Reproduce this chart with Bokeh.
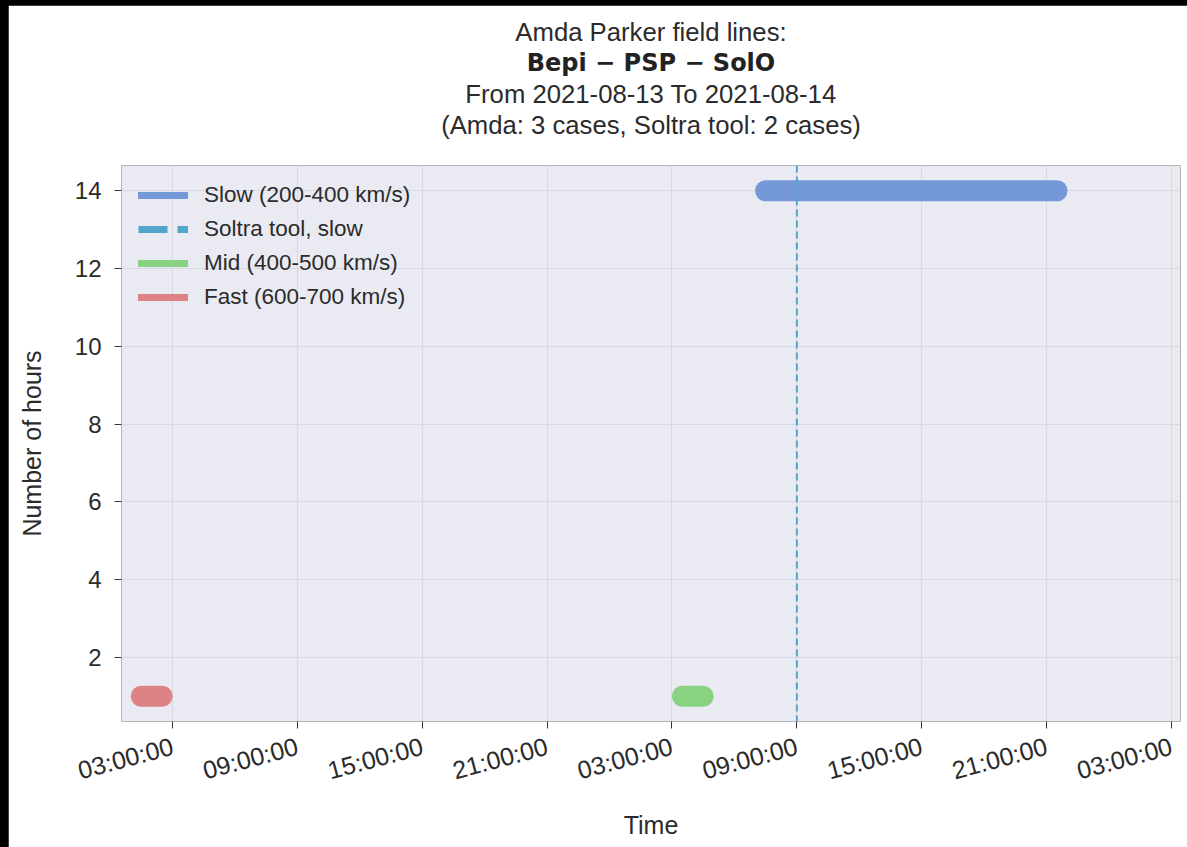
import pandas as pd
from bokeh.plotting import figure
from bokeh.models import (Range1d, FixedTicker, DatetimeTickFormatter, Span, Title,
                          ColumnDataSource, GlobalInlineStyleSheet)
from bokeh.embed import file_html
from bokeh.resources import INLINE
import math

# ---- data ----
slow_start = ["2021-08-14 07:30"]
slow_end = ["2021-08-14 21:30"]
slow_hours = [14]

mid_start = ["2021-08-14 03:30"]
mid_end = ["2021-08-14 04:30"]
mid_hours = [1]

fast_start = ["2021-08-13 01:30"]
fast_end = ["2021-08-13 02:30"]
fast_hours = [1]

soltra_slow_times = ["2021-08-14 09:00"]

x_ticks = ["2021-08-13 03:00", "2021-08-13 09:00", "2021-08-13 15:00", "2021-08-13 21:00",
           "2021-08-14 03:00", "2021-08-14 09:00", "2021-08-14 15:00", "2021-08-14 21:00",
           "2021-08-15 03:00"]
y_ticks = [2, 4, 6, 8, 10, 12, 14]
x_limits = ["2021-08-13 00:33", "2021-08-15 03:26"]
y_limits = [0.35, 14.65]

title_lines = ["Amda Parker field lines:", "Bepi \u2212 PSP \u2212 SolO",
               "From 2021-08-13 To 2021-08-14", "(Amda: 3 cases, Soltra tool: 2 cases)"]

labels = ["Slow (200-400 km/s)", "Soltra tool, slow", "Mid (400-500 km/s)", "Fast (600-700 km/s)"]

# ---- style ----
C_SLOW = "#7498d8"
C_MID = "#88d282"
C_FAST = "#dd8285"
C_SOLTRA = "#52a6cc"
TXT = "#2b2b2b"
FONT = "Liberation Sans"


def ts(s):
    return pd.Timestamp(s).to_pydatetime()


def ms(s):
    return pd.Timestamp(s).value // 10**6


p = figure(frame_width=1059, frame_height=556, output_backend="svg", toolbar_location=None,
           x_axis_type="datetime",
           x_range=Range1d(ts(x_limits[0]), ts(x_limits[1])),
           y_range=Range1d(y_limits[0], y_limits[1]),
           min_border_left=113, min_border_right=7, min_border_top=160, min_border_bottom=126,
           background_fill_color="#eaeaf2", border_fill_color="white", outline_line_color=None)

p.stylesheets = [GlobalInlineStyleSheet(
    css="html, body { background: #000000; margin: 0; padding: 0; overflow: hidden; }")]
p.styles = {"margin-left": "8px", "margin-top": "5px"}

# spacer between the title block and the plot frame
p.add_layout(Title(text="\u00a0", text_font_size="22px", standoff=0), "above")
# titles (added bottom-first so the last is outermost)
for i, t in enumerate(reversed(title_lines)):
    bold = (t == title_lines[1])
    p.add_layout(Title(text=t, align="center", text_font_size="24px" if bold else "25.7px",
                       text_font="DejaVu Sans" if bold else FONT,
                       text_font_style="bold" if bold else "normal",
                       text_color="#222222" if bold else TXT,
                       standoff=0 if i == 0 else 1), "above")

# bars
def bars(starts, ends, hrs, color):
    src = ColumnDataSource(dict(x0=[ts(s) for s in starts], x1=[ts(e) for e in ends],
                                y0=hrs, y1=hrs))
    p.segment(x0="x0", y0="y0", x1="x1", y1="y1", source=src, line_color=color,
              line_width=21, line_cap="round")

bars(slow_start, slow_end, slow_hours, C_SLOW)
bars(mid_start, mid_end, mid_hours, C_MID)
bars(fast_start, fast_end, fast_hours, C_FAST)

for t in soltra_slow_times:
    p.add_layout(Span(location=ms(t), dimension="height", line_color=C_SOLTRA,
                      line_width=2, line_dash="7 4"))

# legend proxies (no visible points: NaN values)
nan = float("nan")
proxy_x = [ts(x_limits[0]), ts(x_limits[1])]
proxy_y = [nan, nan]
p.line(x=proxy_x, y=proxy_y, line_color=C_SLOW, line_width=7, line_cap="round", legend_label=labels[0])
p.line(x=proxy_x, y=proxy_y, line_color=C_SOLTRA, line_width=7, line_dash="29 10", legend_label=labels[1])
p.line(x=proxy_x, y=proxy_y, line_color=C_MID, line_width=7, line_cap="round", legend_label=labels[2])
p.line(x=proxy_x, y=proxy_y, line_color=C_FAST, line_width=7, line_cap="round", legend_label=labels[3])

lg = p.legend[0]
lg.location = "top_left"
lg.background_fill_alpha = 0
lg.border_line_alpha = 0
lg.label_text_font = FONT
lg.label_text_font_size = "22.5px"
lg.label_text_color = TXT
lg.glyph_width = 50
lg.glyph_height = 26
lg.label_height = 26
lg.label_standoff = 16
lg.spacing = 8
lg.padding = 10
lg.margin = 7

# grid
p.xgrid.grid_line_color = "#d8d8e2"
p.ygrid.grid_line_color = "#d8d8e2"
p.xgrid.grid_line_width = 1
p.ygrid.grid_line_width = 1

# axes
p.xaxis.ticker = FixedTicker(ticks=[ms(t) for t in x_ticks])
fmt = "%H:%M:%S"
p.xaxis.formatter = DatetimeTickFormatter(microseconds=fmt, milliseconds=fmt, seconds=fmt,
                                          minsec=fmt, minutes=fmt, hourmin=fmt, hours=fmt,
                                          days=fmt, months=fmt, years=fmt)
p.yaxis.ticker = FixedTicker(ticks=y_ticks)
p.xaxis.major_label_orientation = math.radians(15)

for ax in (p.xaxis[0], p.yaxis[0]):
    ax.axis_line_color = None
    ax.major_tick_line_color = "#333333"
    ax.major_tick_out = 7
    ax.major_tick_in = 0
    ax.minor_tick_line_color = None
    ax.major_label_text_font = FONT
    ax.major_label_text_font_size = "24px"
    ax.major_label_text_color = TXT
    ax.axis_label_text_font = FONT
    ax.axis_label_text_font_size = "25px"
    ax.axis_label_text_font_style = "normal"
    ax.axis_label_text_color = TXT

p.xaxis.major_label_text_font_size = "25px"
p.xaxis.axis_label = "Time"
p.yaxis.axis_label = "Number of hours"
p.xaxis.major_label_standoff = 17
p.yaxis.major_label_standoff = 13
p.xaxis.axis_label_standoff = 10
p.yaxis.axis_label_standoff = 26

open("out.html", "w").write(file_html(p, INLINE))
